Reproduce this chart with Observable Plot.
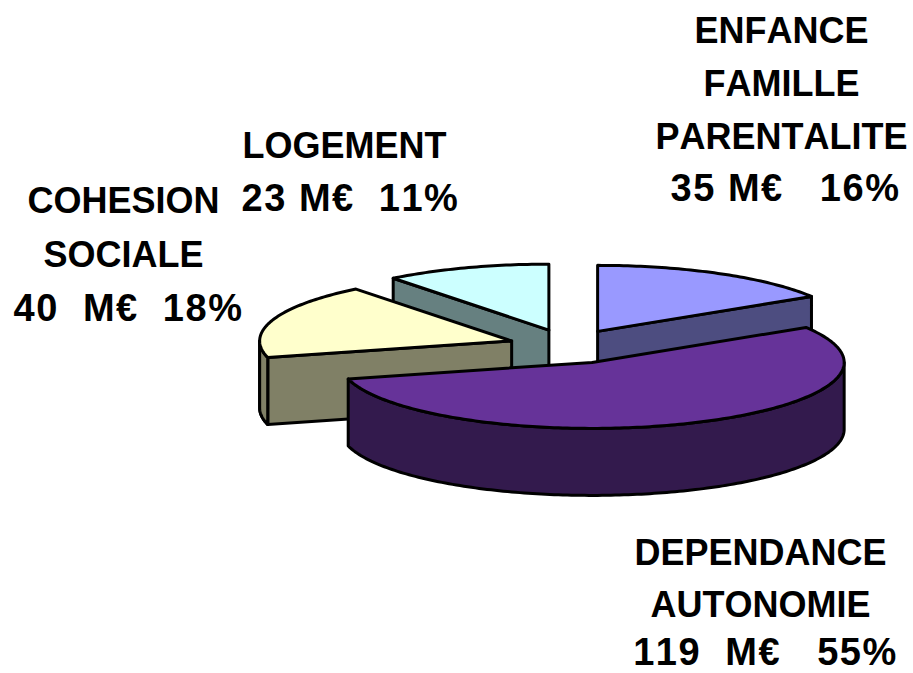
<!DOCTYPE html>
<html>
<head>
<meta charset="utf-8">
<script src="https://cdn.jsdelivr.net/npm/d3@7"></script>
<script src="https://cdn.jsdelivr.net/npm/@observablehq/plot@0.6"></script>
<style>
html,body{margin:0;padding:0;background:#fff}
svg{display:block}
</style>
</head>
<body>
<div id="chart"></div>
<script>
// Chart values, clockwise from the top of the pie
const categories = ["ENFANCE FAMILLE PARENTALITE", "DEPENDANCE AUTONOMIE", "COHESION SOCIALE", "LOGEMENT"];
const amounts = [35, 119, 40, 23];
const percents = [16, 55, 18, 11];
const labelLines = [
  ["ENFANCE", "FAMILLE", "PARENTALITE", "35 M€\u00a0\u00a0 16%"],
  ["DEPENDANCE", "AUTONOMIE", "119\u00a0 M€\u00a0\u00a0 55%"],
  ["COHESION", "SOCIALE", "40\u00a0 M€\u00a0 18%"],
  ["LOGEMENT", "23 M€\u00a0 11%"]
];

// Styling and layout
const topColors = ["#9999FF", "#663399", "#FFFFCC", "#CCFFFF"];
const wallColors = ["#4D4D80", "#331A4D", "#808066", "#668080"];
const labelX = [[781, 781, 781, 785], [760, 760, 765], [123, 123, 128], [344, 350]];
const labelY = [[31, 84, 137, 188], [553, 605, 652], [201, 255, 308], [146, 198]];
const W = 913, H = 673;
const cx = 568, cy = 346, rx = 252, ry = 66, depth = 67, explodeX = 60, explodeY = 17.3;
const drawOrder = [3, 0, 2, 1];

// Slice geometry derived from the values
const total = d3.sum(amounts);
const rad = Math.PI / 180;
let cursor = -90;
const slices = amounts.map((v, i) => {
  const a0 = cursor, a1 = cursor + v / total * 360;
  cursor = a1;
  const mid = (a0 + a1) / 2 * rad;
  return {i, a0, a1,
    ax: cx + explodeX * Math.cos(mid),
    ay: cy + explodeY * Math.sin(mid)};
});
const arcPoint = (s, deg, dz = 0) => ({
  x: s.ax + rx * Math.cos(deg * rad),
  y: s.ay + ry * Math.sin(deg * rad) + dz
});
const arc = (s, from, to, dz = 0) => {
  const pts = [], n = Math.max(2, Math.ceil(Math.abs(to - from)));
  for (let k = 0; k <= n; k++) pts.push(arcPoint(s, from + (to - from) * k / n, dz));
  return pts;
};
const close = pts => [...pts, pts[0]];
const apex = (s, dz = 0) => ({x: s.ax, y: s.ay + dz});

const face = (pts, fill) => Plot.line(close(pts), {
  x: "x", y: "y", fill, stroke: "#000", strokeWidth: 3,
  strokeLinejoin: "round", curve: "linear"
});

const marks = [];
for (const i of drawOrder) {
  const s = slices[i];
  const wall = wallColors[i];
  // radial walls that face the viewer
  if (Math.cos(s.a0 * rad) < -1e-6)
    marks.push(face([apex(s), arcPoint(s, s.a0), arcPoint(s, s.a0, depth), apex(s, depth)], wall));
  if (Math.cos(s.a1 * rad) > 1e-6)
    marks.push(face([apex(s), arcPoint(s, s.a1), arcPoint(s, s.a1, depth), apex(s, depth)], wall));
  // outer wall: the front half of the rim only
  const f0 = Math.max(s.a0, 0), f1 = Math.min(s.a1, 180);
  if (f1 > f0) marks.push(face([...arc(s, f0, f1), ...arc(s, f1, f0, depth)], wall));
  // left sliver of a slice that passes the 180 degree point
  if (s.a0 < 180 && s.a1 > 180) {
    marks.push(face([...arc(s, s.a0, 180), ...arc(s, 180, s.a0, depth)], wall));
  }
  // top
  marks.push(face([apex(s), ...arc(s, s.a0, s.a1)], topColors[i]));
}

const labelRows = labelLines.flatMap((lines, i) =>
  lines.map((text, j) => ({
    text, x: labelX[i][j], y: labelY[i][j],
    size: text.includes("€") ? 38 : 36
  })));
marks.push(Plot.text(labelRows, {
  x: "x", y: "y", text: "text", fill: "#000", fontSize: "size",
  fontFamily: "'Liberation Sans', Arial, sans-serif",
  fontWeight: 700, textAnchor: "middle", lineAnchor: "middle"
}));

const chart = Plot.plot({
  width: W, height: H,
  margin: 0,
  x: {type: "linear", domain: [0, W], range: [0, W], axis: null},
  y: {type: "linear", domain: [0, H], range: [0, H], axis: null},
  marks
});
d3.select(chart).selectAll("text")
  .style("font-kerning", "none")
  .filter(function () { return this.textContent.includes("€"); })
  .style("letter-spacing", "1.5px");
document.getElementById("chart").appendChild(chart);
</script>
</body>
</html>
